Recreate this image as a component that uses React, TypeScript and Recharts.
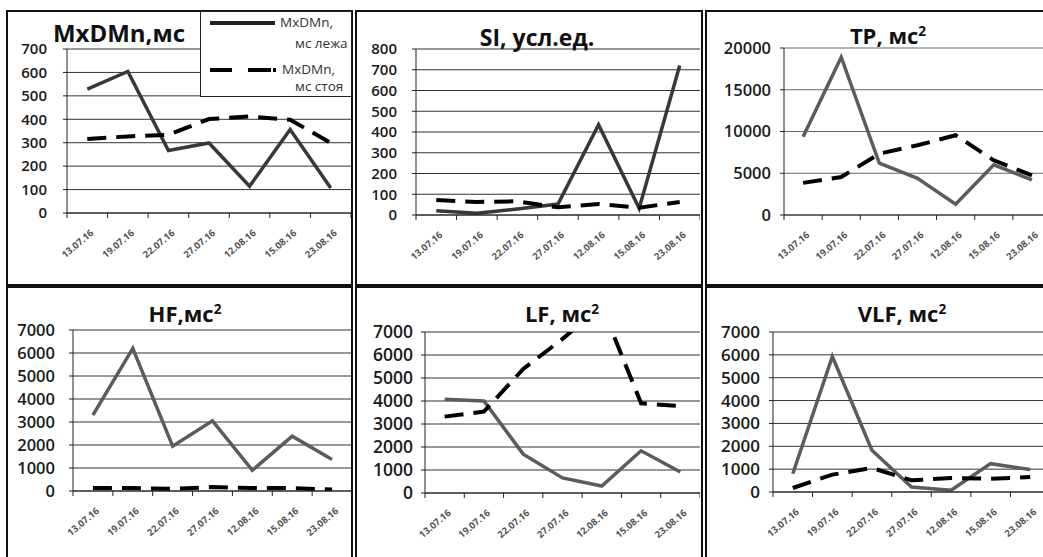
import React from "react";
import { LineChart, Line, XAxis, YAxis, CartesianGrid } from "recharts";

const dates = ["13.07.16", "19.07.16", "22.07.16", "27.07.16", "12.08.16", "15.08.16", "23.08.16"];

// лежа (solid) / стоя (dashed)
const mxdmnLying = [529, 604, 267, 299, 114, 356, 107];
const mxdmnStanding = [316, 327, 334, 401, 412, 398, 299];
const siLying = [21, 8, 29, 53, 435, 32, 720];
const siStanding = [72, 63, 66, 37, 53, 35, 63];
const tpLying = [9360, 18900, 6200, 4400, 1300, 6000, 4200];
const tpStanding = [3850, 4550, 7350, 8350, 9550, 6550, 4750];
const hfLying = [3295, 6200, 1945, 3050, 900, 2380, 1365];
const hfStanding = [130, 130, 90, 170, 130, 130, 60];
const lfLying = [4075, 4000, 1690, 655, 305, 1835, 915];
const lfStanding = [3320, 3540, 5390, 6700, 8130, 3900, 3780];
const vlfLying = [800, 5930, 1830, 220, 75, 1240, 980];
const vlfStanding = [175, 760, 1050, 510, 610, 580, 655];

const ticks700 = [0, 100, 200, 300, 400, 500, 600, 700];
const ticks800 = [0, 100, 200, 300, 400, 500, 600, 700, 800];
const ticks20000 = [0, 5000, 10000, 15000, 20000];
const ticks7000 = [0, 1000, 2000, 3000, 4000, 5000, 6000, 7000];

const FONT = '"Open Sans", "Noto Sans", sans-serif';
const BORDER = 2;

type Box = { left: number; top: number; width: number; height: number };
type Plot = { left: number; top: number; right: number; bottom: number };

const XTick = (props: any) => {
  const { x, y, payload, index, band } = props;
  const h = band / 2;
  return (
    <g>
      <line x1={x - h} x2={x - h} y1={y} y2={y + 5} stroke="#222" />
      {index === dates.length - 1 && <line x1={x + h} x2={x + h} y1={y} y2={y + 5} stroke="#222" />}
      <text
        transform={`translate(${x + 7},${y + 21}) rotate(-40)`}
        textAnchor="end"
        fontSize={9.5}
        fontWeight={700}
        fontFamily={FONT}
        fill="#555"
      >
        {payload.value}
      </text>
    </g>
  );
};

interface PanelProps {
  box: Box;
  plot: Plot;
  lying: number[];
  standing: number[];
  ticks: number[];
  yFont: number;
  yGap: number;
  grid: string;
  solid: string;
}

function Panel({ box, plot, lying, standing, ticks, yFont, yGap, grid, solid }: PanelProps) {
  const ox = box.left + BORDER;
  const oy = box.top + BORDER;
  const chartH = box.height - 2 * BORDER;
  const yw = plot.left - ox - 4;
  const xh = 40;
  const chartW = plot.right - ox;
  const band = (plot.right - plot.left) / dates.length;
  const margin = {
    top: plot.top - oy,
    right: 0,
    left: 4,
    bottom: chartH - (plot.bottom - oy) - xh,
  };
  const data = dates.map((d, i) => ({ date: d, lying: lying[i], standing: standing[i] }));

  return (
    <div
      style={{
        position: "absolute",
        left: box.left,
        top: box.top,
        width: box.width,
        height: box.height,
        border: `${BORDER}px solid #111`,
        boxSizing: "border-box",
        overflow: "hidden",
        background: "#fff",
      }}
    >
      <div style={{ position: "absolute", left: 0, top: 0 }}>
        <LineChart width={chartW} height={chartH} data={data} margin={margin}>
          <CartesianGrid horizontal vertical={false} stroke={grid} strokeWidth={1} />
          <XAxis
            dataKey="date"
            interval={0}
            padding={{ left: band / 2, right: band / 2 }}
            height={xh}
            tickSize={0}
            tickMargin={0}
            tickLine={false}
            axisLine={{ stroke: "#222" }}
            tick={(p: any) => <XTick {...p} band={band} />}
          />
          <YAxis
            domain={[0, ticks[ticks.length - 1]]}
            ticks={ticks}
            interval={0}
            allowDataOverflow
            width={yw}
            tickSize={4}
            tickMargin={yGap}
            axisLine={{ stroke: "#222" }}
            tickLine={{ stroke: "#222" }}
            tick={{ fontSize: yFont, fill: "#1a1a1a", fontFamily: FONT, fontWeight: 600 }}
          />
          <Line
            type="linear"
            dataKey="lying"
            stroke={solid}
            strokeWidth={3.5}
            dot={false}
            isAnimationActive={false}
          />
          <Line
            type="linear"
            dataKey="standing"
            stroke="#000"
            strokeWidth={4}
            strokeDasharray="19 10"
            dot={false}
            isAnimationActive={false}
          />
        </LineChart>
      </div>
    </div>
  );
}

function Title({ x, y, size, children }: { x: number; y: number; size: number; children: React.ReactNode }) {
  return (
    <div
      style={{
        position: "absolute",
        left: x,
        top: y,
        transform: "translate(-50%, -50%)",
        whiteSpace: "nowrap",
        fontFamily: FONT,
        fontWeight: 700,
        fontSize: size,
        color: "#111",
        lineHeight: 1,
      }}
    >
      {children}
    </div>
  );
}

const Sq = () => <span style={{ fontSize: "0.62em", verticalAlign: "0.6em" }}>2</span>;

export default function App() {
  const legendText = { position: "absolute" as const, fontSize: 13.5, color: "#333", fontFamily: FONT, whiteSpace: "nowrap" as const, lineHeight: 1 };
  return (
    <div
      style={{
        position: "fixed",
        left: 0,
        top: 0,
        width: 1043,
        height: 557,
        background: "#fff",
        overflow: "hidden",
      }}
    >
      <Panel box={{ left: 6, top: 10, width: 347, height: 276 }} plot={{ left: 67, top: 49, right: 351, bottom: 213 }}
        lying={mxdmnLying} standing={mxdmnStanding} ticks={ticks700} yFont={15} yGap={16} grid="#333" solid="#383838" />
      <Panel box={{ left: 355, top: 10, width: 348, height: 276 }} plot={{ left: 416, top: 49, right: 700, bottom: 215 }}
        lying={siLying} standing={siStanding} ticks={ticks800} yFont={15} yGap={15} grid="#333" solid="#383838" />
      <Panel box={{ left: 705, top: 10, width: 347, height: 276 }} plot={{ left: 784, top: 48, right: 1051, bottom: 215 }}
        lying={tpLying} standing={tpStanding} ticks={ticks20000} yFont={16.5} yGap={9} grid="#666" solid="#5c5c5c" />
      <Panel box={{ left: 6, top: 286, width: 347, height: 280 }} plot={{ left: 73, top: 330, right: 352, bottom: 491 }}
        lying={hfLying} standing={hfStanding} ticks={ticks7000} yFont={16.5} yGap={14} grid="#333" solid="#5c5c5c" />
      <Panel box={{ left: 355, top: 286, width: 348, height: 280 }} plot={{ left: 425, top: 332, right: 700, bottom: 493 }}
        lying={lfLying} standing={lfStanding} ticks={ticks7000} yFont={17.5} yGap={8} grid="#333" solid="#5c5c5c" />
      <Panel box={{ left: 705, top: 286, width: 347, height: 280 }} plot={{ left: 773, top: 332, right: 1050, bottom: 492 }}
        lying={vlfLying} standing={vlfStanding} ticks={ticks7000} yFont={17} yGap={9} grid="#333" solid="#5c5c5c" />

      <Title x={119} y={33} size={24}>MxDMn,мс</Title>
      <Title x={537} y={37} size={23}>SI, усл.ед.</Title>
      <Title x={888} y={35} size={22}>TP, мс<Sq /></Title>
      <Title x={185} y={313} size={22}>HF,мс<Sq /></Title>
      <Title x={562} y={313} size={22}>LF, мс<Sq /></Title>
      <Title x={902} y={313} size={22}>VLF, мс<Sq /></Title>

      <div
        style={{
          position: "absolute",
          left: 200,
          top: 11,
          width: 152,
          height: 86,
          border: "1px solid #222",
          boxSizing: "border-box",
          background: "#fff",
        }}
      >
        <svg width={80} height={84} style={{ position: "absolute", left: 0, top: 0 }}>
          <line x1={9} x2={74} y1={11} y2={11} stroke="#222" strokeWidth={4} />
          <line x1={9} x2={75} y1={58} y2={58} stroke="#000" strokeWidth={4} strokeDasharray="22 16 23 2" />
        </svg>
        <span style={{ ...legendText, left: 79, top: 4 }}>MxDMn,</span>
        <span style={{ ...legendText, left: 94, top: 25 }}>мс лежа</span>
        <span style={{ ...legendText, left: 81, top: 51 }}>MxDMn,</span>
        <span style={{ ...legendText, left: 94, top: 68 }}>мс стоя</span>
      </div>
    </div>
  );
}
